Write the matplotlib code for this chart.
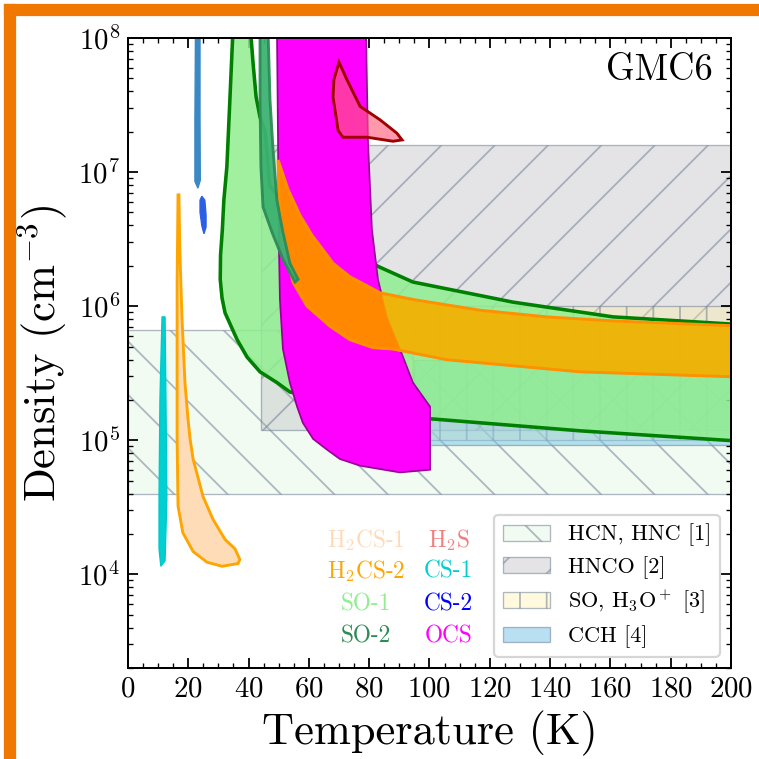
import numpy as np
import matplotlib as mpl
mpl.use("Agg")
import matplotlib.pyplot as plt
from matplotlib.patches import Rectangle, Patch
from matplotlib.ticker import MultipleLocator

plt.rcParams['font.family'] = 'serif'
plt.rcParams['font.serif'] = ['cmr10']
plt.rcParams['mathtext.fontset'] = 'cm'
plt.rcParams['axes.formatter.use_mathtext'] = True
plt.rcParams['hatch.linewidth'] = 0.8

# literature ranges (temperature K, density cm^-3)
hcn_T = [0, 200]
hcn_n = [4.0e4, 6.6e5]
hnco_T = [44, 200]
hnco_n = [1.2e5, 1.6e7]
so_T = [70, 200]
so_n = [1.0e5, 1.0e6]
cch_T = [95, 200]
cch_n = [9.2e4, 4.0e5]

# contour regions, temperature and log10(density)
cs1_T = [11.3, 10.6, 10.3, 10.3, 10.9, 12.3, 12.9, 12.6, 12.3]
cs1_logn = [5.92, 5.30, 4.56, 4.19, 4.06, 4.10, 4.56, 5.30, 5.92]
cs2a_T = [22.4, 23.9, 23.9, 24.0, 23.2, 22.2, 22.2]
cs2a_logn = [8.1, 8.1, 7.39, 6.94, 6.88, 6.93, 7.39]
cs2b_T = [24.5, 25.5, 25.9, 25.9, 25.2, 24.5, 23.9, 23.9]
cs2b_logn = [6.82, 6.79, 6.68, 6.59, 6.54, 6.60, 6.70, 6.79]
h2cs_T = [16.6, 16.3, 16.3, 16.3, 16.6, 18.2, 21.6, 26.2, 31.2, 36.5, 37.1, 35.5, 32.2,
          28.2, 24.9, 21.6, 20.6, 19.9, 18.9, 17.9, 17.2, 16.9]
h2cs_logn = [6.83, 6.18, 5.30, 5.01, 4.51, 4.31, 4.17, 4.09, 4.06, 4.08, 4.11, 4.19, 4.26,
             4.41, 4.58, 4.86, 5.01, 5.16, 5.43, 5.92, 6.42, 6.83]
so1_T = [34.9, 33.8, 32.8, 31.8, 31.3, 30.7, 30.6, 31.2, 32.2, 36.2, 39.5, 43.8, 49.4, 53.7, 75,
         100.2, 150, 205, 205, 160.9, 127.7, 94.5, 83.6, 60, 52, 47, 45.5, 43.8, 42.5, 41.5, 40.5]
so1_logn = [8.1, 7.54, 7.04, 6.79, 6.57, 6.38, 6.20, 6.06, 5.95, 5.75, 5.62, 5.51, 5.43, 5.36, 5.25,
            5.16, 5.07, 4.99, 5.86, 5.92, 6.03, 6.18, 6.29, 6.55, 6.75, 6.9, 7.3, 7.41, 7.56, 7.81, 8.1]
so2_T = [43.8, 43.8, 44.1, 44.8, 47.8, 51.4, 53.7, 55.4, 56.4, 53.7, 51.4, 49.4, 48.1, 47.1, 46.4]
so2_logn = [8.1, 7.54, 7.04, 6.74, 6.55, 6.35, 6.25, 6.18, 6.20, 6.32, 6.55, 6.79, 7.17, 7.54, 8.1]
ocs_T = [49.4, 49.8, 50.1, 50.4, 51.4, 53.7, 56.1, 58.0, 61.4, 66.0, 70.3, 77.0, 90.2, 100.2,
         100.2, 94.5, 90.2, 85.9, 82.9, 80.9, 79.6, 78.9]
ocs_logn = [8.1, 7.17, 6.42, 6.05, 5.68, 5.43, 5.25, 5.13, 5.01, 4.93, 4.86, 4.81, 4.76, 4.78,
            5.25, 5.43, 5.68, 5.92, 6.20, 6.57, 7.22, 8.1]
h2s_T = [70.0, 72.6, 77.0, 83.6, 89.2, 90.9, 87.9, 79.3, 71.3, 69.7, 68.0, 68.3]
h2s_logn = [7.82, 7.69, 7.49, 7.39, 7.29, 7.24, 7.23, 7.26, 7.26, 7.31, 7.56, 7.69]
band_T = [49.8, 53.1, 57.0, 61.0, 64.7, 68.0, 73.6, 78.6, 83.6, 94.5, 116.7, 139.0, 160.9, 205,
          205, 149.9, 105.8, 87.9, 81.3, 73.6, 67.0, 59.4, 54.7, 51.4, 50.1]
band_logn = [7.09, 6.87, 6.68, 6.53, 6.42, 6.32, 6.22, 6.16, 6.10, 6.05, 5.97, 5.92, 5.89, 5.85,
             5.47, 5.51, 5.60, 5.68, 5.69, 5.75, 5.85, 6.00, 6.18, 6.50, 6.79]

species = ['H$_2$CS-1', 'H$_2$CS-2', 'SO-1', 'SO-2', 'H$_2$S', 'CS-1', 'CS-2', 'OCS']
species_col = ['#ffdab9', '#ffa500', '#90ee90', '#2e8b57', '#f08080', '#00ced1', '#0000ff', '#ff00ff']


def dens(logn):
    return 10 ** np.array(logn)


fig = plt.figure(figsize=(759 / 160, 759 / 160), dpi=160)
ax = fig.add_axes([0.1686, 0.1199, 0.7945, 0.830])

# orange frame (top and left)
fig.patches.append(Rectangle((5 / 759, 1 - 15 / 759), 1, 10 / 759, transform=fig.transFigure,
                             color='#f07800', zorder=0))
fig.patches.append(Rectangle((5 / 759, 0), 10 / 759, 1 - 5 / 759, transform=fig.transFigure,
                             color='#f07800', zorder=0))

edge = (0.44, 0.50, 0.58, 0.55)
rects = [
    (hcn_T, hcn_n, (0.82, 0.96, 0.82, 0.3), '\\', 'HCN, HNC [1]'),
    (hnco_T, hnco_n, (0.70, 0.70, 0.72, 0.35), '/', 'HNCO [2]'),
    (so_T, so_n, (1.0, 0.94, 0.63, 0.35), '|', 'SO, H$_3$O$^+$ [3]'),
    (cch_T, cch_n, (0.50, 0.78, 0.91, 0.55), None, 'CCH [4]'),
]
handles = []
for T, n, fc, hatch, lab in rects:
    ax.add_patch(Rectangle((T[0], n[0]), T[1] - T[0], n[1] - n[0], facecolor=fc,
                           edgecolor=edge, hatch=hatch, lw=0.6, zorder=1))
    handles.append(Patch(facecolor=fc, edgecolor=edge, hatch=hatch, lw=0.6, label=lab))

ax.fill(so1_T, dens(so1_logn), facecolor='#90ee90', alpha=0.85, zorder=2)
ax.fill(so1_T, dens(so1_logn), fill=False, edgecolor='#008000', lw=1.6, zorder=2)
ocs = ax.fill(ocs_T, dens(ocs_logn), facecolor='#ff00ff', edgecolor='#990099', lw=0.8, zorder=3)[0]
ax.fill(band_T, dens(band_logn), facecolor='#f4b000', alpha=0.93, zorder=4)
dark = ax.fill(band_T, dens(band_logn), facecolor='#ff8800', zorder=4)[0]
dark.set_clip_path(ocs)
ax.fill(band_T, dens(band_logn), fill=False, edgecolor='#ff9000', lw=1.3, zorder=4)
ax.fill(so2_T, dens(so2_logn), facecolor='#3cb371', edgecolor='#2e8b57', lw=1.3,
        alpha=0.95, zorder=5)
ax.fill(h2s_T, dens(h2s_logn), facecolor='#ff5a78', alpha=0.62, zorder=6)
ax.fill(h2s_T, dens(h2s_logn), fill=False, edgecolor='#a00000', lw=1.3, zorder=6)
ax.fill(h2cs_T, dens(h2cs_logn), facecolor='#ffdcb8', edgecolor='#ffa500', lw=1.3, zorder=5)
ax.fill(cs1_T, dens(cs1_logn), facecolor='#00d0d2', edgecolor='#00c8cc', lw=0.6, zorder=5)
ax.fill(cs2a_T, dens(cs2a_logn), facecolor='#3a88c4', edgecolor='#3a88c4', lw=0.6, zorder=5)
ax.fill(cs2b_T, dens(cs2b_logn), facecolor='#2b5fe6', edgecolor='#2b5fe6', lw=0.6, zorder=5)

ax.set_xlim(0, 200)
ax.set_yscale('log')
ax.set_ylim(2e3, 1e8)
ax.xaxis.set_major_locator(MultipleLocator(20))
ax.xaxis.set_minor_locator(MultipleLocator(5))
ax.tick_params(which='both', direction='in', top=True, right=True, labelsize=13)
ax.tick_params(which='major', length=4.5, width=0.8)
ax.tick_params(which='minor', length=2.3, width=0.6)
for s in ax.spines.values():
    s.set_linewidth(0.9)
    s.set_zorder(10)

ax.set_xlabel('Temperature (K)', fontsize=20)
ax.set_ylabel('Density (cm$^{-3}$)', fontsize=20)
ax.text(0.97, 0.933, 'GMC6', transform=ax.transAxes, ha='right', va='baseline', fontsize=16.5)

# species colour key
col_x = [0.395, 0.532]
row_y = [0.192, 0.143, 0.092, 0.041]
for i, (name, c) in enumerate(zip(species, species_col)):
    ax.text(col_x[i // 4], row_y[i % 4], name, color=c, transform=ax.transAxes,
            ha='center', va='baseline', fontsize=10.5, zorder=11)

leg = ax.legend(handles=handles, loc='lower right', fontsize=10, handlelength=2.1,
                borderaxespad=0.5, labelspacing=0.42)
leg.set_zorder(12)

fig.savefig('out.png', dpi=160)
